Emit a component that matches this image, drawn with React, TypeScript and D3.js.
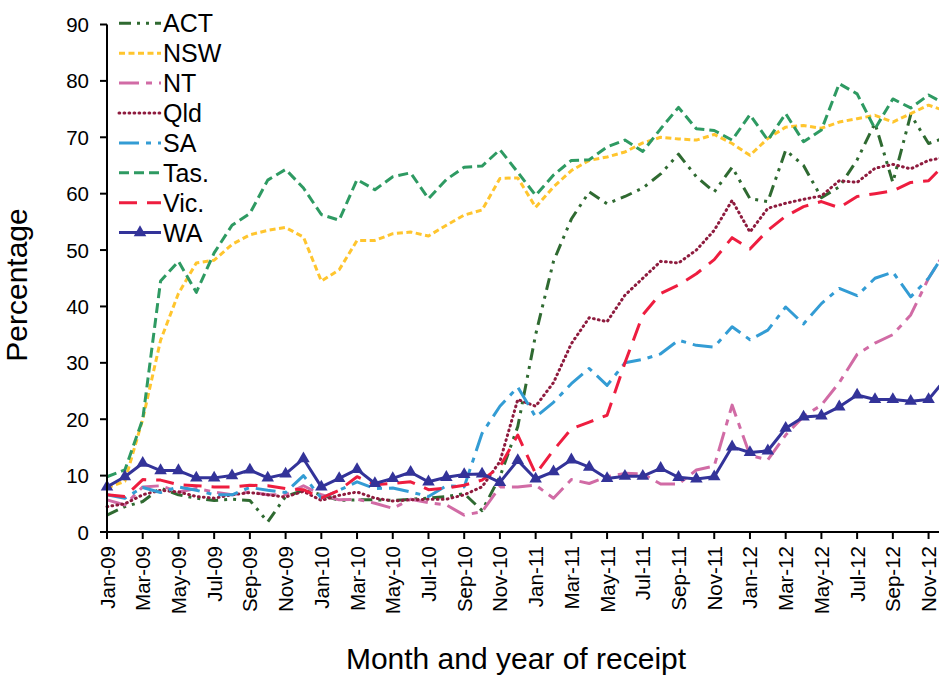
import React from 'react';
import * as d3 from 'd3';

const months = [
  'Jan-09','Feb-09','Mar-09','Apr-09','May-09','Jun-09','Jul-09','Aug-09','Sep-09','Oct-09','Nov-09','Dec-09',
  'Jan-10','Feb-10','Mar-10','Apr-10','May-10','Jun-10','Jul-10','Aug-10','Sep-10','Oct-10','Nov-10','Dec-10',
  'Jan-11','Feb-11','Mar-11','Apr-11','May-11','Jun-11','Jul-11','Aug-11','Sep-11','Oct-11','Nov-11','Dec-11',
  'Jan-12','Feb-12','Mar-12','Apr-12','May-12','Jun-12','Jul-12','Aug-12','Sep-12','Oct-12','Nov-12','Dec-12',
];

const ACT = [3.0,4.5,5.4,7.8,6.6,6.0,5.6,5.8,5.6,1.8,6.3,7.4,
  6.6,5.6,5.7,5.7,5.6,5.8,6.0,6.3,6.8,3.8,9.8,18.7,
  35,48,55.5,60.3,58.2,59.5,61,63.5,67,63,60.3,64.7,
  59.1,58.6,67.7,65,59.3,61.2,66,72.5,62,74,68.9,70];
const NSW = [7.8,9,20,34,42.3,47.7,48.2,51,52.7,53.5,54,52.3,
  44.5,46.5,51.7,51.7,52.9,53.2,52.5,54.4,56.2,57.1,62.7,62.8,
  57.6,61.2,64.1,65.9,66.5,67.4,69,70,69.7,69.5,70.5,68.9,
  66.8,69.8,71.8,72.1,71.6,72.7,73.3,73.9,72.7,74.2,75.7,74.6];
const NT = [5.7,4.8,8.0,8.2,7.1,7.7,7.1,6.6,7.1,6.6,6.6,8.2,
  6.6,5.7,5.8,5.1,4.2,5.8,5.2,4.8,3.0,3.6,8.0,8.0,
  8.3,6.0,9.3,8.6,9.8,10.4,10.3,8.5,8.5,11.0,11.7,22.5,
  13.6,12.8,17.2,20.5,22.5,26.5,31.5,33.5,35,38.5,45,50];
const Qld = [4.5,5.0,6.6,7.4,7.1,6.3,6.0,6.6,7.0,6.6,6.2,7.2,
  5.6,6.5,7.1,6.0,5.5,5.7,5.8,5.8,6.6,8.0,12.5,23.5,
  22.3,26.5,33.4,38,37.3,42,45,48,47.7,50,53.5,58.8,
  53.2,57.4,58.3,59,59.6,62.3,62,64.5,65.2,64.4,65.9,66.5];
const SA = [6.6,6.0,7.9,7.0,8.0,7.4,6.6,6.6,7.9,7.4,7.0,10.0,
  6.0,7.4,8.9,7.7,7.8,7.1,6.3,8.2,8.0,17.5,22.3,25.7,
  20.4,23,26.3,29,26,30,30.6,31.6,34,33.1,32.8,36.4,
  34.1,35.8,39.9,36.9,40.5,43.2,41.9,45,46.1,41.7,45,50];
const Tas = [9.8,11,20,44.5,48,42.5,49.5,54.4,56.5,62.4,64.3,61,
  56.3,55.3,62.5,60.7,63,63.7,59.1,62.5,64.7,64.9,67.8,63.8,
  59.7,63.3,65.9,66,68.3,69.5,67.5,71.5,75.3,71.5,71.2,69.5,
  74,69.5,74.2,69.2,71.3,79.5,77.7,71.5,76.8,75.2,77.5,75.8];
const Vic = [6.6,6.3,9.3,9.2,8.4,8.2,8.0,8.0,8.3,8.2,7.7,7.5,
  6.0,7.4,9.8,8.4,8.6,8.9,7.5,7.8,8.3,9.2,11.6,17.2,
  10.3,14.5,18.3,19.5,20.7,30,38.5,42.3,43.8,45.8,48.3,52.2,
  50.2,53.5,56,57.7,58.6,57.5,59.5,60,60.5,62,62.3,65.5];
const WA = [8.0,9.8,12.2,10.9,10.9,9.6,9.6,10.0,11.0,9.6,10.3,13.0,
  8.0,9.5,11.1,8.6,9.5,10.6,8.9,9.7,10.2,10.3,8.8,12.7,
  9.4,10.7,12.8,11.5,9.5,9.9,9.9,11.3,9.7,9.4,9.8,15.1,
  14.1,14.4,18.4,20.4,20.6,22.2,24.3,23.5,23.5,23.2,23.5,27.3];

const seriesNames = ['ACT', 'NSW', 'NT', 'Qld', 'SA', 'Tas.', 'Vic.', 'WA'];
const seriesValues = [ACT, NSW, NT, Qld, SA, Tas, Vic, WA];
const yTicks = [0, 10, 20, 30, 40, 50, 60, 70, 80, 90];

const styles = [
  { color: '#2F6A31', dash: '12,6,3,6,3,6', cap: 'butt' },
  { color: '#FFC52E', dash: '6,3.5', cap: 'butt' },
  { color: '#D16BA5', dash: '20,7,6,7', cap: 'butt' },
  { color: '#8E1B3E', dash: '0.8,4.2', cap: 'round' },
  { color: '#339CD4', dash: '20,7,5,7', cap: 'butt' },
  { color: '#2E9A62', dash: '10,5', cap: 'butt' },
  { color: '#EE1D3F', dash: '18,10', cap: 'butt' },
  { color: '#333399', dash: null, cap: 'butt' },
];

const FONT = 'Arial, "Liberation Sans", Helvetica, sans-serif';

export default function App() {
  const W = 939, H = 675;
  const x0 = 107, step = 17.86;
  const x = d3.scalePoint<string>().domain(months).range([x0, x0 + step * (months.length - 1)]);
  const y = d3.scaleLinear().domain([0, 90]).range([532, 24.5]);
  const line = d3.line<number>().x((_, i) => x(months[i]) as number).y((d) => y(d));
  const tri = d3.symbol().type(d3.symbolTriangle).size(68)() as string;

  return (
    <svg width={W} height={H} style={{ position: 'absolute', left: 0, top: 0, background: '#fff' }}
      fontFamily={FONT}>
      <rect x={0} y={0} width={W} height={H} fill="#fff" />
      {/* series */}
      {seriesValues.map((vals, si) => (
        <g key={seriesNames[si]}>
          <path d={line(vals) as string} fill="none" stroke={styles[si].color} strokeWidth={3}
            strokeDasharray={styles[si].dash || undefined} strokeLinecap={styles[si].cap as any}
            strokeLinejoin="round" />
          {seriesNames[si] === 'WA' && vals.map((v, i) => (
            <path key={i} d={tri} transform={`translate(${x(months[i])},${y(v)})`} fill={styles[si].color} />
          ))}
        </g>
      ))}
      {/* y axis */}
      <line x1={x0} x2={x0} y1={y(90)} y2={y(0)} stroke="#000" strokeWidth={2} />
      {yTicks.map((t) => (
        <g key={t}>
          <line x1={x0 - 7} x2={x0} y1={y(t)} y2={y(t)} stroke="#000" strokeWidth={2} />
          <text x={89} y={y(t)} textAnchor="end" dominantBaseline="central" fontSize={20.5}>{t}</text>
        </g>
      ))}
      {/* x axis */}
      <line x1={x0} x2={W} y1={y(0)} y2={y(0)} stroke="#000" strokeWidth={2} />
      {months.map((m, i) => i % 2 === 0 ? (
        <g key={m}>
          <line x1={x(m)} x2={x(m)} y1={y(0)} y2={y(0) + 7} stroke="#000" strokeWidth={2} />
          <text transform={`translate(${x(m)},${546}) rotate(-90)`} textAnchor="end"
            dominantBaseline="central" fontSize={20.5}>{m}</text>
        </g>
      ) : null)}
      {/* axis titles */}
      <text x={516} y={669} textAnchor="middle" fontSize={30}>Month and year of receipt</text>
      <text transform={`translate(${27},${285}) rotate(-90)`} textAnchor="middle" fontSize={30}>Percentage</text>
      {/* legend */}
      {seriesNames.map((n, i) => {
        const ly = 23.3 + 29.9 * i;
        return (
          <g key={n}>
            <line x1={119} x2={161} y1={ly} y2={ly} stroke={styles[i].color} strokeWidth={3}
              strokeDasharray={styles[i].dash || undefined} strokeLinecap={styles[i].cap as any} />
            {n === 'WA' && <path d={tri} transform={`translate(140,${ly})`} fill={styles[i].color} />}
            <text x={163} y={ly} dominantBaseline="central" fontSize={25}>{n}</text>
          </g>
        );
      })}
    </svg>
  );
}
